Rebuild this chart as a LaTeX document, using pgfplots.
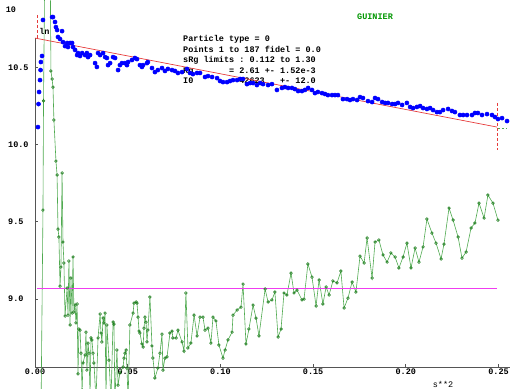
\documentclass[border=0pt]{standalone}
\usepackage{fontspec}
\setmonofont{Liberation Mono}
\usepackage{pgfplots}
\usepackage{pgfplotstable}
\pgfplotsset{compat=1.18}
\definecolor{axgray}{RGB}{85,85,85}
\definecolor{fitred}{RGB}{230,60,60}
\definecolor{mag}{RGB}{240,60,240}
\definecolor{gline}{RGB}{80,170,80}
\definecolor{gmark}{RGB}{20,120,20}
\definecolor{gtext}{RGB}{0,150,0}
\newcommand\tf{\ttfamily\bfseries\fontsize{8.5}{10}\selectfont}
\newcommand\tfr{\ttfamily\fontsize{8.5}{10}\selectfont}

\pgfplotstableread{
s v
0.0016 10.113
0.0019 10.262
0.0022 10.340
0.0027 10.417
0.0030 10.482
0.0032 10.534
0.0038 10.573
0.0043 10.806
0.0092 10.825
0.0097 10.825
0.0108 10.793
0.0113 10.760
0.0119 10.741
0.0124 10.696
0.0135 10.683
0.0146 10.734
0.0151 10.663
0.0162 10.637
0.0173 10.657
0.0178 10.631
0.0189 10.657
0.0200 10.657
0.0205 10.631
0.0216 10.612
0.0227 10.579
0.0232 10.592
0.0243 10.573
0.0254 10.592
0.0270 10.579
0.0280 10.592
0.0286 10.566
0.0297 10.579
0.0324 10.527
0.0334 10.502
0.0340 10.592
0.0351 10.579
0.0367 10.592
0.0378 10.566
0.0388 10.560
0.0394 10.514
0.0405 10.527
0.0421 10.566
0.0432 10.560
0.0448 10.482
0.0458 10.514
0.0469 10.527
0.0485 10.527
0.0496 10.514
0.0502 10.534
0.0523 10.547
0.0539 10.560
0.0550 10.553
0.0566 10.514
0.0577 10.502
0.0583 10.514
0.0604 10.527
0.0609 10.534
0.0631 10.495
0.0647 10.469
0.0663 10.482
0.0685 10.495
0.0701 10.476
0.0717 10.489
0.0739 10.482
0.0755 10.476
0.0771 10.463
0.0793 10.469
0.0820 10.489
0.0836 10.463
0.0852 10.456
0.0874 10.463
0.0890 10.463
0.0917 10.437
0.0933 10.443
0.0955 10.437
0.0982 10.430
0.0998 10.411
0.1014 10.404
0.1036 10.404
0.1052 10.411
0.1068 10.417
0.1090 10.417
0.1106 10.424
0.1122 10.424
0.1143 10.391
0.1160 10.398
0.1176 10.398
0.1197 10.385
0.1214 10.398
0.1230 10.391
0.1257 10.385
0.1278 10.391
0.1305 10.353
0.1332 10.366
0.1348 10.372
0.1365 10.366
0.1386 10.366
0.1402 10.359
0.1419 10.346
0.1440 10.346
0.1456 10.353
0.1473 10.366
0.1494 10.353
0.1510 10.333
0.1526 10.340
0.1548 10.333
0.1564 10.327
0.1580 10.320
0.1602 10.320
0.1618 10.320
0.1634 10.320
0.1661 10.294
0.1683 10.294
0.1699 10.288
0.1715 10.294
0.1737 10.288
0.1753 10.307
0.1769 10.301
0.1796 10.281
0.1818 10.275
0.1834 10.301
0.1850 10.294
0.1872 10.275
0.1888 10.269
0.1904 10.269
0.1926 10.262
0.1942 10.262
0.1958 10.269
0.1980 10.256
0.2006 10.269
0.2023 10.243
0.2039 10.236
0.2060 10.243
0.2077 10.249
0.2093 10.236
0.2114 10.230
0.2131 10.236
0.2147 10.223
0.2168 10.210
0.2184 10.210
0.2201 10.223
0.2228 10.230
0.2249 10.217
0.2265 10.210
0.2292 10.191
0.2309 10.191
0.2330 10.191
0.2357 10.191
0.2373 10.204
0.2389 10.204
0.2411 10.191
0.2438 10.197
0.2465 10.191
0.2481 10.178
0.2497 10.165
0.2519 10.171
0.2546 10.152
}\bluedata

\pgfplotstableread{
s v
0.0032 8.217
0.0043 9.576
0.0046 10.282
0.0054 11.324
0.0081 11.324
0.0086 10.476
0.0092 10.424
0.0097 10.372
0.0102 10.159
0.0113 9.893
0.0119 9.803
0.0124 9.453
0.0129 9.401
0.0135 9.084
0.0140 9.207
0.0146 9.816
0.0151 9.369
0.0156 9.233
0.0162 8.890
0.0173 9.071
0.0178 8.896
0.0183 9.246
0.0189 8.832
0.0194 9.136
0.0200 8.909
0.0205 9.272
0.0210 8.916
0.0216 8.961
0.0221 8.845
0.0227 8.968
0.0232 8.515
0.0237 8.806
0.0243 8.799
0.0248 8.650
0.0254 8.411
0.0259 8.586
0.0270 8.638
0.0275 8.786
0.0280 8.540
0.0286 8.715
0.0291 8.650
0.0297 8.379
0.0302 8.748
0.0307 8.735
0.0313 8.650
0.0318 8.586
0.0329 8.346
0.0340 8.748
0.0351 8.903
0.0356 8.780
0.0361 8.722
0.0367 8.877
0.0372 8.845
0.0378 8.909
0.0383 8.346
0.0388 8.832
0.0399 8.605
0.0410 8.346
0.0421 8.851
0.0426 8.838
0.0431 8.346
0.0442 8.670
0.0448 8.443
0.0458 8.521
0.0475 8.560
0.0480 8.618
0.0485 8.650
0.0491 8.670
0.0496 8.553
0.0502 8.346
0.0512 8.832
0.0529 8.909
0.0534 8.974
0.0545 8.981
0.0550 8.974
0.0556 8.883
0.0561 8.793
0.0566 8.780
0.0577 8.709
0.0583 8.689
0.0588 8.812
0.0593 8.883
0.0599 8.850
0.0604 8.722
0.0609 8.799
0.0620 9.013
0.0631 8.696
0.0636 8.618
0.0647 8.489
0.0663 8.553
0.0674 8.650
0.0685 8.773
0.0690 8.540
0.0701 8.618
0.0712 8.625
0.0728 8.780
0.0739 8.793
0.0744 8.748
0.0761 8.748
0.0771 8.799
0.0793 8.722
0.0804 8.663
0.0814 9.039
0.0825 8.683
0.0841 8.715
0.0858 8.896
0.0874 8.761
0.0890 8.883
0.0906 8.883
0.0917 8.799
0.0933 8.812
0.0949 8.715
0.0960 8.883
0.0976 8.858
0.0992 8.702
0.1014 8.618
0.1025 8.670
0.1041 8.735
0.1063 8.786
0.1068 8.896
0.1090 8.929
0.1111 8.948
0.1122 9.097
0.1138 8.709
0.1154 8.806
0.1176 8.961
0.1192 8.877
0.1208 8.761
0.1241 9.065
0.1257 8.981
0.1278 8.994
0.1294 9.045
0.1311 8.754
0.1327 8.806
0.1343 9.039
0.1359 9.026
0.1381 9.168
0.1397 9.039
0.1413 9.058
0.1440 8.994
0.1451 9.000
0.1472 9.227
0.1494 9.142
0.1516 8.955
0.1532 9.123
0.1553 8.968
0.1570 9.078
0.1586 9.026
0.1607 9.117
0.1629 9.104
0.1650 9.181
0.1667 8.942
0.1688 9.006
0.1710 9.110
0.1731 9.045
0.1753 9.278
0.1775 9.233
0.1791 9.395
0.1818 9.136
0.1834 9.369
0.1855 9.382
0.1877 9.285
0.1899 9.239
0.1920 9.298
0.1942 9.272
0.1963 9.201
0.1985 9.272
0.2006 9.362
0.2028 9.201
0.2050 9.330
0.2071 9.239
0.2093 9.337
0.2114 9.518
0.2141 9.427
0.2163 9.362
0.2190 9.259
0.2206 9.356
0.2233 9.589
0.2255 9.511
0.2282 9.401
0.2303 9.265
0.2325 9.304
0.2352 9.460
0.2373 9.492
0.2395 9.621
0.2422 9.524
0.2443 9.673
0.2470 9.621
0.2497 9.511
}\greendata

\begin{document}
\begin{tikzpicture}
% annotation text (drawn first, data points lie over it)
\node[anchor=base west, inner sep=0pt, font=\tf] at (148pt,325pt) {Particle~type~=~0};
\node[anchor=base west, inner sep=0pt, font=\tf] at (148pt,314.5pt) {Points~1~to~187~fidel~=~0.0};
\node[anchor=base west, inner sep=0pt, font=\tf] at (148pt,304pt) {sRg~limits~:~0.112~to~1.30};
\node[anchor=base west, inner sep=0pt, font=\tf] at (148pt,293.5pt) {Rg~~~~~~~=~2.61~+-~1.52e-3};
\node[anchor=base west, inner sep=0pt, font=\tf] at (148pt,283pt) {I0~~~~~~~~~42623~~~+-~12.0};
\node[anchor=center, inner sep=0pt, font=\tf, text=gtext] at (340pt,350pt) {GUINIER};
\node[anchor=center, inner sep=0pt, font=\tf] at (9.5pt,336pt) {ln};
\node[anchor=center, inner sep=0pt, font=\tf] at (-24pt,357pt) {10};
\node[anchor=center, inner sep=0pt, font=\tfr] at (408pt,-17pt) {s**2};

\begin{axis}[
  at={(0,0)}, anchor=south west,
  scale only axis, width=475pt, height=367pt,
  xmin=0, xmax=0.2562, ymin=8.560, ymax=10.9354,
  axis x line*=bottom, axis y line*=left,
  y axis line style={draw=none},
  x axis line style={axgray, line width=0.8pt},
  clip=false,
  xtick={0,0.05,0.1,0.15,0.2,0.25},
  xticklabels={0.00,0.05,0.10,0.15,0.20,0.25},
  ytick={9,9.5,10,10.5},
  yticklabels={9.0,9.5,10.0,10.5},
  tick align=inside, major tick length=3pt,
  every tick/.style={axgray, line width=0.8pt},
  ticklabel style={font=\tf},
  yticklabel style={anchor=west, xshift=-27pt, inner sep=0pt},
  xticklabel style={inner sep=2pt},
]
% green residual-like curve
\addplot[gline, line width=0.6pt, mark=o, mark size=1.35pt,
  mark options={draw=gmark, fill=white, line width=0.55pt}] table[x=s, y=v] {\greendata};
% magenta line
\addplot[mag, line width=0.8pt] coordinates {(0.0011,9.071) (0.2492,9.071)};
% y axis line (partial)
\addplot[axgray, line width=0.8pt] coordinates {(0,8.560) (0,10.689)};
% fit line
\addplot[fitred, line width=0.7pt] coordinates {(0,10.689) (0.2492,10.113)};
% limit markers
\addplot[fitred, line width=0.7pt, dash pattern=on 3pt off 2pt] coordinates {(0.0011,10.838) (0.0011,10.689)};
\addplot[fitred, line width=0.7pt, dash pattern=on 3pt off 2pt] coordinates {(0.2492,10.269) (0.2492,9.964)};
\addplot[gline, line width=0.7pt, dash pattern=on 2pt off 2pt] coordinates {(0.2497,10.107) (0.2546,10.107)};
% ln I data
\addplot[only marks, mark=*, mark size=2.1pt, blue, mark options={draw=blue, fill=blue}] table[x=s, y=v] {\bluedata};
\end{axis}
\pgfresetboundingbox
\path[use as bounding box] (-35pt,-21pt) rectangle (475pt,367pt);
\end{tikzpicture}
\end{document}
